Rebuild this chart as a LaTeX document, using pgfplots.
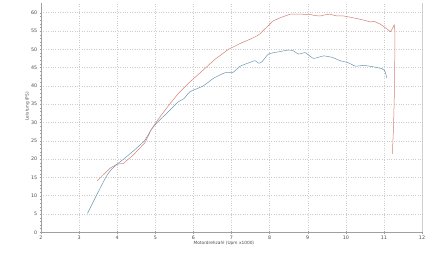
\documentclass[border=0pt]{standalone}
\usepackage{pgfplots}
\pgfplotsset{compat=1.18}
\usepackage{fontspec}
\setmainfont{DejaVu Sans}
\definecolor{redline}{RGB}{212,130,118}
\definecolor{blueline}{RGB}{108,152,180}
\definecolor{gridc}{RGB}{205,205,205}
\definecolor{axc}{RGB}{160,160,160}
\begin{document}
\begin{tikzpicture}
\useasboundingbox[fill=white] (0pt,0pt) rectangle (435pt,261pt);
\begin{axis}[
  at={(41pt,28.7pt)}, anchor=south west,
  scale only axis, width=381pt, height=229.3pt,
  xmin=2, xmax=12, ymin=0, ymax=62.65,
  xtick={2,...,12}, ytick={0,5,...,60},
  minor x tick num=4, minor y tick num=4,
  axis lines=left, axis line style={-, axc, line width=0.4pt},
  tick style={axc, line width=0.3pt}, tick align=center,
  major tick length=2.5pt, minor tick length=1.5pt,
  grid=major, major grid style={gridc, dotted, line width=0.4pt},
  /pgf/number format/assume math mode=true,
  ticklabel style={font=\fontsize{4.8}{5.5}\selectfont, text=black!70},
  xticklabel style={yshift=1pt},
  yticklabel style={xshift=1pt},
  xlabel={Motordrehzahl (Upm x1000)},
  ylabel={Leistung (PS)},
  label style={font=\fontsize{4.3}{5}\selectfont, text=black!70},
  xlabel style={at={(axis description cs:0.48,0)}, anchor=north, yshift=-5pt},
  ylabel style={at={(axis description cs:0,0.55)}, anchor=south, xshift=0pt, yshift=8pt},
  clip=false,
]
\draw[gridc, line width=0.4pt] (axis cs:12,0) -- (axis cs:12,62.65);
\addplot[blueline, line width=0.5pt, smooth, tension=0.3] coordinates {
(3.22,5.2) (3.46,10.2) (3.71,15.2) (3.85,17.2) (4.00,18.6) (4.25,20.7)
(4.51,23.0) (4.73,25.2) (4.89,28.0) (5.05,30.0) (5.30,32.5) (5.61,35.7)
(5.75,36.5) (5.91,38.4) (6.26,40.0) (6.53,42.1) (6.83,43.6) (7.02,43.6)
(7.10,44.2) (7.23,45.4) (7.53,46.6) (7.62,46.9) (7.71,46.2) (7.80,46.6)
(7.97,48.7) (8.23,49.3) (8.50,49.8) (8.62,49.6) (8.76,48.7) (8.93,49.1)
(9.00,48.6) (9.15,47.5) (9.28,47.8) (9.42,48.2) (9.64,47.8) (9.85,46.9)
(10.07,46.3) (10.25,45.4) (10.47,45.6) (10.73,45.2) (10.95,44.7)
(11.02,44.2) (11.08,42.1)
};
\addplot[redline, line width=0.5pt] coordinates {
(3.48,14.1) (3.81,17.5) (3.99,18.6) (4.16,18.8) (4.42,21.1) (4.73,24.5)
(4.89,28.0) (5.05,30.5) (5.30,34.0) (5.61,38.0) (5.90,41.0) (6.20,43.8)
(6.57,47.3) (6.92,50.0) (7.27,51.8) (7.50,52.8) (7.71,53.9) (7.90,55.8)
(8.10,57.8) (8.30,58.7) (8.54,59.6) (8.80,59.6) (9.07,59.5) (9.20,59.2)
(9.33,59.1) (9.45,59.4) (9.57,59.6) (9.77,59.1) (9.94,59.1) (10.10,58.8)
(10.29,58.4) (10.50,57.9) (10.64,57.5) (10.75,57.6) (10.90,56.9)
(11.05,55.8) (11.17,54.8) (11.22,55.6) (11.27,56.7) (11.29,55.0)
(11.28,40) (11.25,28) (11.22,21.4)
};
\end{axis}
\end{tikzpicture}
\end{document}
